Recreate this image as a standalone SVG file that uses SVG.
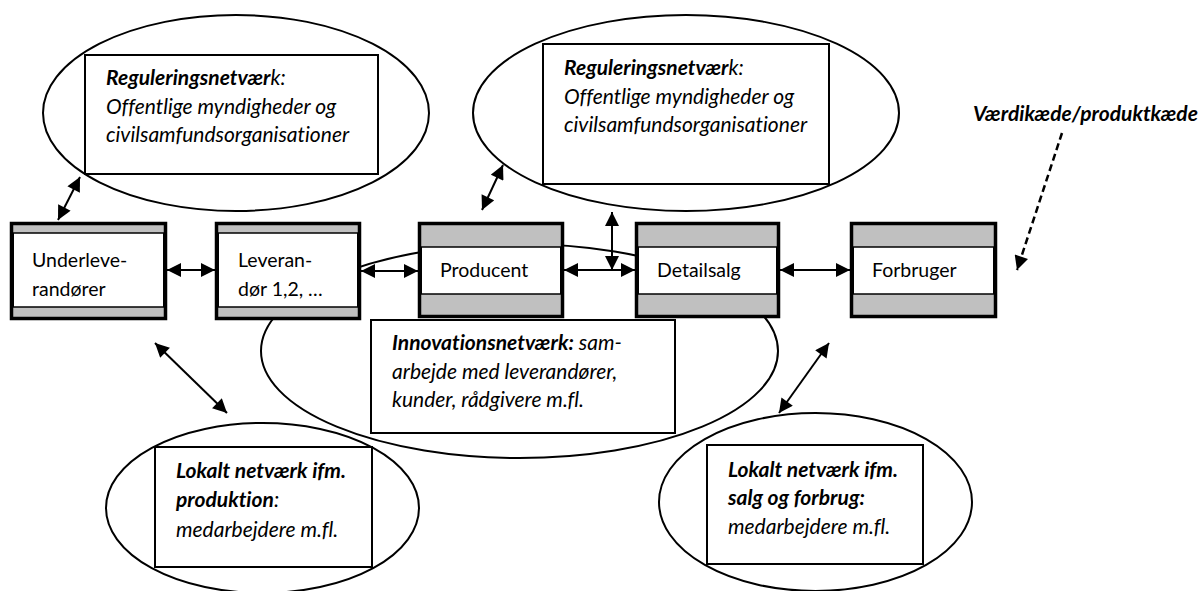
<svg xmlns="http://www.w3.org/2000/svg" width="1203" height="591" viewBox="0 0 1203 591">
  <defs>
    <style>
      .ell { fill: #fff; stroke: #000; stroke-width: 2; }
      .note { fill: #fff; stroke: #000; stroke-width: 2; }
      .frame { fill: #c0c0c0; stroke: #000; stroke-width: 3.5; }
      .band { fill: #fff; stroke: #000; stroke-width: 1.5; }
      text { font-variant-ligatures: none; font-feature-settings: "liga" 0, "dlig" 0; }
      .lbl { font-family: Lato, "Liberation Sans", sans-serif; font-size: 19.5px; fill: #000; }
      .it { font-family: Lato, "Liberation Sans", sans-serif; font-size: 21px; font-style: italic; fill: #000; }
      .b { font-weight: bold; }
      .link { fill: none; stroke: #000; stroke-width: 2; }
      .dash { fill: none; stroke: #000; stroke-width: 2.5; stroke-dasharray: 7 4; }
    </style>
    <marker id="head" viewBox="0 0 10 10" refX="10" refY="5" markerWidth="15" markerHeight="14" markerUnits="userSpaceOnUse" orient="auto-start-reverse">
      <path d="M0,0 L10,5 L0,10 Z" fill="#000"/>
    </marker>
  </defs>

  <!-- innovation network ellipse sits behind the value chain -->
  <g id="innovation-ellipse">
    <ellipse class="ell" cx="519.5" cy="351" rx="258.5" ry="107"/>
  </g>

  <!-- regulation networks -->
  <g id="regulering-1">
    <ellipse class="ell" cx="236" cy="113" rx="193" ry="98"/>
    <rect class="note" x="85" y="55" width="293" height="119"/>
    <text class="it"><tspan x="106" y="85"><tspan class="b">Reguleringsnetvær</tspan>k:</tspan><tspan x="106" y="114">Offentlige myndigheder og</tspan><tspan x="106" y="142">civilsamfundsorganisationer</tspan></text>
  </g>
  <g id="regulering-2">
    <ellipse class="ell" cx="686" cy="113" rx="213" ry="98"/>
    <rect class="note" x="543" y="44" width="286" height="140"/>
    <text class="it"><tspan x="564" y="75"><tspan class="b">Reguleringsnetvær</tspan>k:</tspan><tspan x="564" y="104">Offentlige myndigheder og</tspan><tspan x="564" y="132">civilsamfundsorganisationer</tspan></text>
  </g>

  <!-- value chain -->
  <g id="underleverandoerer">
    <rect class="frame" x="11.5" y="223.5" width="154" height="95"/>
    <rect class="band" x="13.25" y="233" width="150.5" height="74"/>
    <text class="lbl"><tspan x="32" y="267">Underleve-</tspan><tspan x="32" y="296">randører</tspan></text>
  </g>
  <g id="leverandoer">
    <rect class="frame" x="216.5" y="223.5" width="143" height="95"/>
    <rect class="band" x="218.25" y="233" width="139.5" height="74"/>
    <text class="lbl"><tspan x="238" y="267">Leveran-</tspan><tspan x="238" y="296">dør 1,2, …</tspan></text>
  </g>
  <g id="producent">
    <rect class="frame" x="419.5" y="223.5" width="143" height="93"/>
    <rect class="band" x="421.25" y="247" width="139.5" height="47"/>
    <text class="lbl" x="440" y="277">Producent</text>
  </g>
  <g id="detailsalg">
    <rect class="frame" x="636.5" y="223.5" width="142" height="93"/>
    <rect class="band" x="638.25" y="247" width="138.5" height="47"/>
    <text class="lbl" x="657" y="277">Detailsalg</text>
  </g>
  <g id="forbruger">
    <rect class="frame" x="851.5" y="223.5" width="144" height="93"/>
    <rect class="band" x="853.25" y="247" width="140.5" height="47"/>
    <text class="lbl" x="872" y="277">Forbruger</text>
  </g>

  <g id="innovation">
    <rect class="note" x="371" y="320" width="304" height="113"/>
    <text class="it"><tspan x="392" y="350"><tspan class="b">Innovationsnetværk:</tspan> sam-</tspan><tspan x="392" y="379">arbejde med leverandører,</tspan><tspan x="392" y="407">kunder, rådgivere m.fl.</tspan></text>
  </g>

  <!-- local networks -->
  <g id="lokalt-produktion">
    <ellipse class="ell" cx="262.5" cy="508" rx="156.5" ry="85"/>
    <rect class="note" x="155" y="447" width="217" height="120"/>
    <text class="it"><tspan x="176" y="478" class="b">Lokalt netværk ifm.</tspan><tspan x="176" y="507"><tspan class="b">produktion</tspan>:</tspan><tspan x="176" y="537">medarbejdere m.fl.</tspan></text>
  </g>
  <g id="lokalt-salg">
    <ellipse class="ell" cx="815.5" cy="502" rx="156.5" ry="89"/>
    <rect class="note" x="707" y="445" width="216" height="119"/>
    <text class="it"><tspan x="728" y="477" class="b">Lokalt netværk ifm.</tspan><tspan x="728" y="505" class="b">salg og forbrug:</tspan><tspan x="728" y="534">medarbejdere m.fl.</tspan></text>
  </g>

  <g id="vaerdikaede">
    <text class="it b" x="973" y="121">Værdikæde/produktkæde</text>
  </g>

  <!-- connectors -->
  <g id="connectors">
    <line class="link" x1="167" y1="270" x2="215" y2="270" marker-start="url(#head)" marker-end="url(#head)"/>
    <line class="link" x1="361" y1="271" x2="418" y2="271" marker-start="url(#head)" marker-end="url(#head)"/>
    <line class="link" x1="564" y1="270" x2="635" y2="270" marker-start="url(#head)" marker-end="url(#head)"/>
    <line class="link" x1="780" y1="270" x2="850" y2="270" marker-start="url(#head)" marker-end="url(#head)"/>
    <line class="link" x1="612" y1="212" x2="612" y2="270" marker-start="url(#head)" marker-end="url(#head)"/>
    <line class="link" x1="58" y1="220" x2="80" y2="177" marker-start="url(#head)" marker-end="url(#head)"/>
    <line class="link" x1="482" y1="210" x2="503" y2="165" marker-start="url(#head)" marker-end="url(#head)"/>
    <line class="link" x1="155" y1="343" x2="227" y2="413" marker-start="url(#head)" marker-end="url(#head)"/>
    <line class="link" x1="829" y1="343" x2="779" y2="413" marker-start="url(#head)" marker-end="url(#head)"/>
    <line class="dash" x1="1062" y1="133" x2="1017" y2="270" marker-end="url(#head)"/>
  </g>
</svg>
